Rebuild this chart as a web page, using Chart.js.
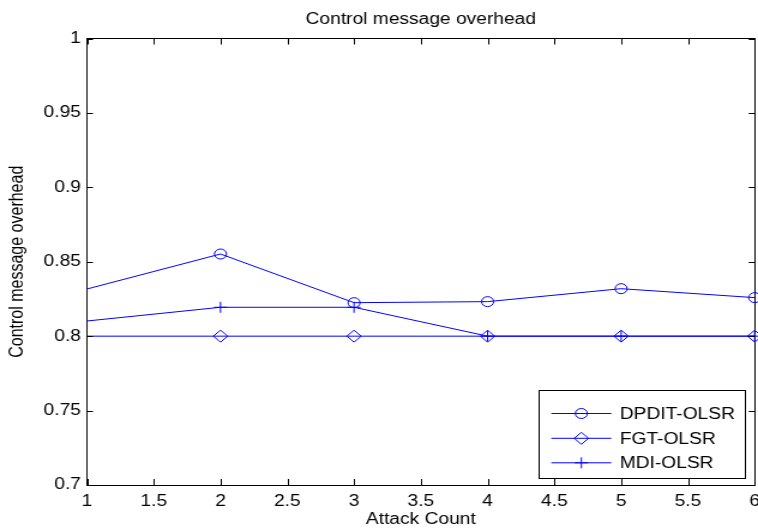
<!DOCTYPE html>
<html>
<head>
<meta charset="utf-8">
<script src="https://cdn.jsdelivr.net/npm/chart.js@4/dist/chart.umd.min.js"></script>
<style>
  html,body{margin:0;padding:0;background:#fff;overflow:hidden;}
  #wrap{width:758px;height:528px;overflow:hidden;}
  /* the reference is stretched sideways, so draw narrower and widen it */
  #chart{display:block;transform-origin:0 0;transform:scaleX(1.1994);}
</style>
</head>
<body>
<div id="wrap"><canvas id="chart" width="632" height="528"></canvas></div>
<script>
// ================= DATA =================
const attackCount = [1, 2, 3, 4, 5, 6];
const dpditOlsr = [0.8317, 0.8552, 0.8225, 0.8232, 0.8319, 0.8259];
const fgtOlsr   = [0.8, 0.8, 0.8, 0.8, 0.8, 0.8];
const mdiOlsr   = [0.8102, 0.8194, 0.8194, 0.8, 0.8, 0.8];

const xTicks = [1, 1.5, 2, 2.5, 3, 3.5, 4, 4.5, 5, 5.5, 6];
const yTicks = [0.7, 0.75, 0.8, 0.85, 0.9, 0.95, 1];

const FONT = '"Liberation Sans", Arial, sans-serif';
const BLUE = "#0000ff";

function pts(vals){ return attackCount.map((x,i)=>({x:x, y:vals[i]})); }

function series(label, vals, style, r){
  return {
    label: label,
    data: pts(vals),
    borderColor: BLUE,
    borderWidth: 1,
    tension: 0,
    pointStyle: style,
    pointRadius: c => c.dataIndex === 0 ? 0 : r,
    pointBorderColor: BLUE,
    pointBackgroundColor: "rgba(0,0,0,0)",
    pointBorderWidth: 1,
    clip: false
  };
}

// no extra room for overhanging tick labels
function noPad(s){ s.paddingLeft = 0; s.paddingRight = 0; s.paddingTop = 0; s.paddingBottom = 0; }

// ================= INNER TICKS + LEGEND =================
const boxPlugin = {
  id: "box",
  afterDraw(chart){
    const ctx = chart.ctx, a = chart.chartArea;
    const x = chart.scales.x, y = chart.scales.y;
    ctx.save();
    ctx.strokeStyle = "#000";
    ctx.lineWidth = 1;
    ctx.beginPath();
    xTicks.forEach(v=>{
      const px = Math.round(x.getPixelForValue(v)) + 0.5;
      ctx.moveTo(px, a.bottom); ctx.lineTo(px, a.bottom - 6);
      ctx.moveTo(px, a.top);    ctx.lineTo(px, a.top + 6);
    });
    yTicks.forEach(v=>{
      const py = Math.round(y.getPixelForValue(v)) + 0.5;
      ctx.moveTo(a.left, py);  ctx.lineTo(a.left + 5, py);
      ctx.moveTo(a.right, py); ctx.lineTo(a.right - 5, py);
    });
    ctx.stroke();

    // legend box, bottom right inside the axes
    const x2 = a.right - 7.8, y2 = a.bottom - 7.3;
    const x1 = x2 - 172.2, y1 = y2 - 87.7;
    ctx.fillStyle = "#fff";
    ctx.fillRect(x1, y1, x2 - x1, y2 - y1);
    ctx.strokeRect(Math.round(x1) + 0.5, Math.round(y1) + 0.5, Math.round(x2 - x1), Math.round(y2 - y1));
    const rowsY = [y1 + 23.5, y1 + 48.3, y1 + 72.8];
    chart.data.datasets.forEach((ds, i)=>{
      const ry = rowsY[i];
      ctx.strokeStyle = BLUE;
      ctx.lineWidth = 1;
      ctx.beginPath();
      ctx.moveTo(x1 + 10.5, ry); ctx.lineTo(x1 + 60.5, ry);
      ctx.stroke();
      ctx.fillStyle = "rgba(0,0,0,0)";
      const r = ds.pointStyle === "circle" ? 5 : (ds.pointStyle === "rectRot" ? 6 : 5.5);
      Chart.helpers.drawPoint(ctx, {pointStyle: ds.pointStyle, radius: r, rotation: 0, borderWidth: 1}, x1 + 35.5, ry);
      ctx.fillStyle = "#000";
      ctx.font = "16px " + FONT;
      ctx.textAlign = "left";
      ctx.textBaseline = "middle";
      ctx.fillText(ds.label, x1 + 67.5, ry + 1);
    });
    ctx.restore();
  }
};

// ================= CHART =================
new Chart(document.getElementById("chart"), {
  type: "line",
  data: {
    datasets: [
      series("DPDIT-OLSR", dpditOlsr, "circle", 5),
      series("FGT-OLSR", fgtOlsr, "rectRot", 6),
      series("MDI-OLSR", mdiOlsr, "cross", 5.5)
    ]
  },
  options: {
    responsive: false,
    devicePixelRatio: 1,
    animation: false,
    events: [],
    layout: {padding: 0, autoPadding: false},
    plugins: {legend: {display: false}, title: {display: false}, tooltip: {enabled: false}},
    scales: {
      x: {
        type: "linear", position: "bottom", min: 1, max: 6,
        grid: {display: false, drawTicks: false},
        border: {display: true, color: "#000", width: 1},
        afterBuildTicks: s => { s.ticks = xTicks.map(v=>({value: v})); },
        afterFit: s => { s.height = 43; noPad(s); },
        ticks: {padding: 7, maxRotation: 0, autoSkip: false, color: "#000",
                font: {family: FONT, size: 16}, callback: v => String(v)},
        title: {display: true, text: "Attack Count", color: "#000",
                font: {family: FONT, size: 16, lineHeight: 1}, padding: {top: 0, bottom: 0}}
      },
      x2: {
        type: "linear", position: "top", min: 1, max: 6,
        grid: {display: false, drawTicks: false},
        border: {display: true, color: "#000", width: 1},
        ticks: {display: false},
        afterFit: s => { s.height = 38.5; noPad(s); },
        title: {display: true, text: "Control message overhead", color: "#000",
                font: {family: FONT, size: 16, lineHeight: 1}, padding: {top: 11.5, bottom: 0}}
      },
      y: {
        type: "linear", position: "left", min: 0.7, max: 1,
        grid: {display: false, drawTicks: false},
        border: {display: true, color: "#000", width: 1},
        afterBuildTicks: s => { s.ticks = yTicks.map(v=>({value: v})); },
        afterFit: s => { s.width = 72.5; noPad(s); },
        ticks: {padding: 5, autoSkip: false, color: "#000",
                font: {family: FONT, size: 16}, callback: v => String(v)},
        title: {display: true, text: "Control message overhead", color: "#000",
                font: {family: FONT, size: 16, lineHeight: 1}, padding: {top: 6.6, bottom: 0}}
      },
      y2: {
        type: "linear", position: "right", min: 0.7, max: 1,
        grid: {display: false, drawTicks: false},
        border: {display: true, color: "#000", width: 1},
        ticks: {display: false},
        afterFit: s => { s.width = 2.8; noPad(s); }
      }
    }
  },
  plugins: [boxPlugin]
});
</script>
</body>
</html>
